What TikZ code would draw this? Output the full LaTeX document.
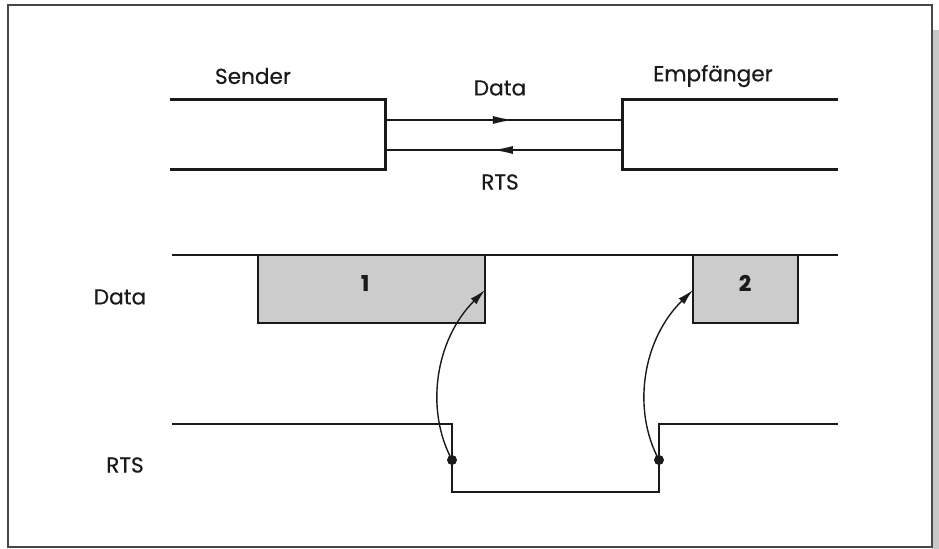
\documentclass[tikz,border=0pt]{standalone}
\usepackage{fontspec}
\setmainfont{Poppins}[FakeBold=0.5]
\usetikzlibrary{arrows.meta,calc,decorations.markings}
\definecolor{ink}{HTML}{1A1A1A}
\definecolor{pktgray}{HTML}{CCCCCC}
\definecolor{shadowgray}{HTML}{C8C8C8}

\begin{document}
\begin{tikzpicture}[x=0.5pt, y=-0.5pt, font=\fontsize{10.8}{12}\selectfont, text=ink,
    frame/.style={draw=ink!80, line width=1.1pt},
    port/.style={draw=ink, line width=1.5pt},
    wire/.style={draw=ink, line width=0.7pt},
    midtip/.style={postaction={decorate}, decoration={markings,
        mark=at position #1 with {\arrow{Latex[length=10pt, width=4pt]}}}},
    signal/.style={draw=ink, line width=0.7pt},
    packet/.style={draw=ink, line width=0.7pt, fill=pktgray},
    trig/.style={draw=ink, line width=0.7pt, -{Latex[length=8pt, width=4pt]}},
    dot/.style={circle, fill=ink, inner sep=0pt, minimum size=5pt},
  ]
  \useasboundingbox (0,0) rectangle (939,549);

  % frame with drop shadow on the right
  \fill[shadowgray] (932,30) rectangle (939,549);
  \draw[frame] (8,5) rectangle (932,547);

  % sender and receiver ends
  \coordinate (sd) at (385,120);
  \coordinate (sr) at (385,150);
  \coordinate (ed) at (622,120);
  \coordinate (er) at (622,150);
  \draw[port] (170,100) -- (385,100) -- (385,170) -- (170,170);
  \draw[port] (838,100) -- (622,100) -- (622,170) -- (838,170);
  \node (sender) at (253,76) {Sender};
  \node (empf) at (713,76) {Empfänger};

  % the two wires between them
  \draw[wire, midtip=0.54] (sd) -- (ed);
  \draw[wire, midtip=0.545] (er) -- (sr);
  \node (datalbl) at (500,88) {Data};
  \node (rtslbl) at (500,182) {RTS};

  % data line with packets
  \node (data) at (120,297) {Data};
  \draw[signal] (172,255) -- (838,255);
  \draw[packet] (258,255) rectangle (485,323);
  \draw[packet] (693,255) rectangle (798,323);
  \node (p1) at (365,283) {\textbf{1}};
  \node (p2) at (745,283) {\textbf{2}};
  \coordinate (p1in) at (485,290);
  \coordinate (p2in) at (693,290);

  % RTS line
  \node (rts) at (125,465) {RTS};
  \draw[signal] (172,424) -- (452,424) -- (452,492) -- (659,492) -- (659,424) -- (838,424);
  \node[dot] (e1) at (452,460) {};
  \node[dot] (e2) at (659,460) {};

  % edges of RTS start the packets
  \draw[trig] (e1.center) .. controls (425,410) and (435,340) .. (p1in);
  \draw[trig] (e2.center) .. controls (632,410) and (642,340) .. (p2in);
\end{tikzpicture}
\end{document}
